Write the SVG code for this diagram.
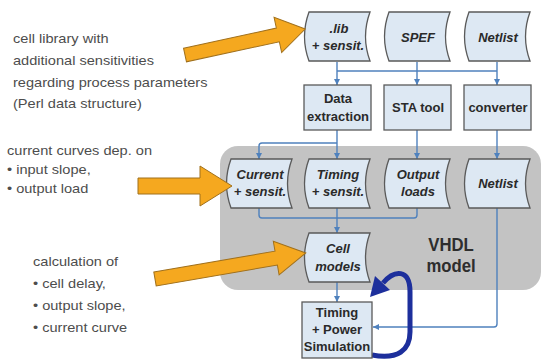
<svg xmlns="http://www.w3.org/2000/svg" width="542" height="361" viewBox="0 0 542 361">
<style>
.note{font-family:"Liberation Sans",Arial,sans-serif;font-size:13.5px;fill:#4d4d4d}
.bx{fill:#dde8f3;stroke:#5a5a5a;stroke-width:1.3}
.lbl{font-family:"Liberation Sans",Arial,sans-serif;font-size:13px;font-weight:bold;fill:#2a2a2a;text-anchor:middle}
.it{font-style:italic}
.con{fill:none;stroke:#4f81bd;stroke-width:1.4}
.orange{fill:#f5a81f;stroke:#a0701c;stroke-width:1}
.big{font-family:"Liberation Sans",Arial,sans-serif;font-size:19px;font-weight:bold;fill:#2e2e2e;text-anchor:middle}
</style>
<defs>
<path id="tape" d="M5,0 L66,0 Q57,24.5 66,49 L5,49 Q-4,24.5 5,0 Z"/>
<marker id="ah" markerWidth="8" markerHeight="8" refX="6" refY="3" orient="auto" markerUnits="userSpaceOnUse">
<path d="M0,0 L6,3 L0,6 Z" fill="#4f81bd"/>
</marker>
</defs>
<rect id="vhdl-panel" x="220" y="146" width="321" height="144" rx="18" fill="#c3c3c3"/>
<g id="notes">
<g transform="translate(13,0) scale(1.08,1)">
<text class="note" x="0" y="43">cell library with</text>
<text class="note" x="0" y="65">additional sensitivities</text>
<text class="note" x="0" y="87">regarding process parameters</text>
<text class="note" x="0" y="108">(Perl data structure)</text>
</g>
<g transform="translate(7,0) scale(1.08,1)">
<text class="note" x="0" y="155">current curves dep. on</text>
<text class="note" x="0" y="174">• input slope,</text>
<text class="note" x="0" y="193">• output load</text>
</g>
<g transform="translate(33,0) scale(1.08,1)">
<text class="note" x="0" y="266">calculation of</text>
<text class="note" x="0" y="288">• cell delay,</text>
<text class="note" x="0" y="310">• output slope,</text>
<text class="note" x="0" y="332">• current curve</text>
</g>
</g>
<g id="connectors">
<path class="con" d="M337,62 V85" marker-end="url(#ah)"/>
<path class="con" d="M417,62 V85" marker-end="url(#ah)"/>
<path class="con" d="M497,62 V85" marker-end="url(#ah)"/>
<path class="con" d="M337,71 H497"/>
<path class="con" d="M337,130 V159" marker-end="url(#ah)"/>
<path class="con" d="M337,143 H262 Q259,143 259,146 V159" marker-end="url(#ah)"/>
<path class="con" d="M417,130 V159" marker-end="url(#ah)"/>
<path class="con" d="M497,130 V159" marker-end="url(#ah)"/>
<path class="con" d="M259,208 V215 Q259,218 262,218 H414 Q417,218 417,215 V208"/>
<path class="con" d="M337,208 V233" marker-end="url(#ah)"/>
<path class="con" d="M337,282 V302" marker-end="url(#ah)"/>
<path class="con" d="M497,208 V324 Q497,327 494,327 H373" marker-end="url(#ah)"/>
<path d="M372,355 C398,360 410,350 410,332 L410,292 C410,268 394,270 383,283" fill="none" stroke="#1d2f9c" stroke-width="5"/>
<polygon points="370,297 375,276 390,290" fill="#1d2f9c"/>
</g>
<g id="lib">
<use href="#tape" transform="translate(304,12)" fill="#dde8f3" stroke="#5a5a5a" stroke-width="1.3"/>
<text class="lbl it" x="339" y="33">.lib</text>
<text class="lbl it" x="338" y="50">+ sensit.</text>
</g>
<g id="spef">
<use href="#tape" transform="translate(384,12)" fill="#dde8f3" stroke="#5a5a5a" stroke-width="1.3"/>
<text class="lbl it" x="418" y="42">SPEF</text>
</g>
<g id="netlist-in">
<use href="#tape" transform="translate(464,12)" fill="#dde8f3" stroke="#5a5a5a" stroke-width="1.3"/>
<text class="lbl it" x="498" y="42">Netlist</text>
</g>
<g id="data-extraction">
<rect class="bx" x="304" y="85" width="67" height="45"/>
<text class="lbl" x="338" y="103">Data</text>
<text class="lbl" x="338" y="121">extraction</text>
</g>
<g id="sta-tool">
<rect class="bx" x="384" y="85" width="67" height="45"/>
<text class="lbl" x="418" y="112">STA tool</text>
</g>
<g id="converter">
<rect class="bx" x="464" y="85" width="67" height="45"/>
<text class="lbl" x="498" y="112">converter</text>
</g>
<g id="current">
<use href="#tape" transform="translate(226,159)" fill="#dde8f3" stroke="#5a5a5a" stroke-width="1.3"/>
<text class="lbl it" x="260" y="179">Current</text>
<text class="lbl it" x="260" y="196">+ sensit.</text>
</g>
<g id="timing">
<use href="#tape" transform="translate(304,159)" fill="#dde8f3" stroke="#5a5a5a" stroke-width="1.3"/>
<text class="lbl it" x="338" y="179">Timing</text>
<text class="lbl it" x="338" y="196">+ sensit.</text>
</g>
<g id="output-loads">
<use href="#tape" transform="translate(384,159)" fill="#dde8f3" stroke="#5a5a5a" stroke-width="1.3"/>
<text class="lbl it" x="418" y="179">Output</text>
<text class="lbl it" x="418" y="196">loads</text>
</g>
<g id="netlist-vhdl">
<use href="#tape" transform="translate(464,159)" fill="#dde8f3" stroke="#5a5a5a" stroke-width="1.3"/>
<text class="lbl it" x="498" y="188">Netlist</text>
</g>
<g id="cell-models">
<use href="#tape" transform="translate(304,233)" fill="#dde8f3" stroke="#5a5a5a" stroke-width="1.3"/>
<text class="lbl it" x="338" y="253">Cell</text>
<text class="lbl it" x="338" y="271">models</text>
</g>
<g id="vhdl-label" transform="translate(451,0) scale(0.88,1)">
<text class="big" x="0" y="251">VHDL</text>
<text class="big" x="0" y="272">model</text>
</g>
<g id="simulation">
<rect class="bx" x="302" y="302" width="70" height="56"/>
<text class="lbl" x="337" y="317">Timing</text>
<text class="lbl" x="337" y="334">+ Power</text>
<text class="lbl" x="337" y="351">Simulation</text>
</g>
<g id="orange-arrows">
<polygon class="orange" transform="translate(185,55) rotate(-12.2)" points="0,-7 95,-7 95,-18 123,0 95,18 95,7 0,7"/>
<polygon class="orange" transform="translate(138,186)" points="0,-8 62,-8 62,-20 94,0 62,20 62,8 0,8"/>
<polygon class="orange" transform="translate(155,279) rotate(-9.8)" points="0,-7 123,-7 123,-17 153,0 123,17 123,7 0,7"/>
</g>
</svg>
